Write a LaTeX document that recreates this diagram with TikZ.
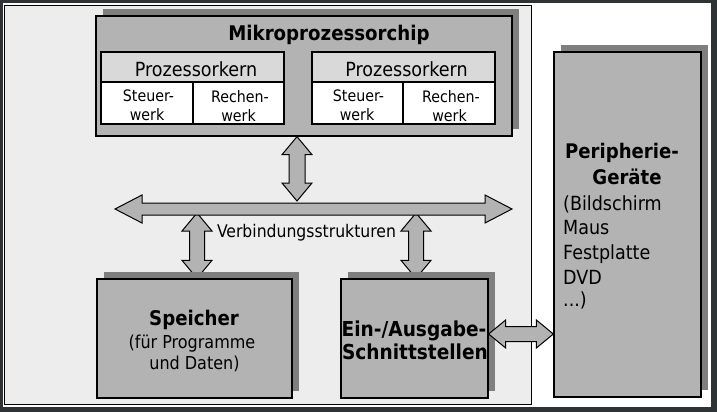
\documentclass[tikz,border=0pt]{standalone}
\usepackage{fontspec}
\setmainfont{DejaVu Sans Condensed}
\usetikzlibrary{calc,shadows}
\definecolor{framedark}{HTML}{2E3436}
\definecolor{panelgray}{HTML}{EDEDED}
\definecolor{boxgray}{HTML}{B3B3B3}
\definecolor{shadowgray}{HTML}{7F7F7F}
\definecolor{headgray}{HTML}{D9D9D9}
\pgfdeclarelayer{bg}
\pgfdeclarelayer{mid}
\pgfsetlayers{bg,mid,main}
% double arrow: #1 start, #2 end, #3 head length, #4 head half width, #5 shaft half width
\newcommand\biarrow[5]{%
 \filldraw[biarrowstyle] (#1)
 -- ($($(#1)!#3!(#2)$)!#4!90:(#2)$)
 -- ($($(#1)!#3!(#2)$)!#5!90:(#2)$)
 -- ($($(#2)!#3!(#1)$)!#5!-90:(#1)$)
 -- ($($(#2)!#3!(#1)$)!#4!-90:(#1)$)
 -- (#2)
 -- ($($(#2)!#3!(#1)$)!#4!90:(#1)$)
 -- ($($(#2)!#3!(#1)$)!#5!90:(#1)$)
 -- ($($(#1)!#3!(#2)$)!#5!-90:(#2)$)
 -- ($($(#1)!#3!(#2)$)!#4!-90:(#2)$)
 -- cycle;}
\begin{document}
\begin{tikzpicture}[x=1pt,y=-1pt,
  box/.style={draw=black, line width=1.3pt, fill=boxgray,
    drop shadow={shadow xshift=7pt, shadow yshift=7pt, fill=shadowgray, opacity=1}},
  headbox/.style={draw=black, line width=1.2pt, fill=headgray, inner sep=0pt},
  cellbox/.style={draw=black, line width=1.2pt, fill=white, inner sep=0pt},
  txt/.style={anchor=base, inner sep=0pt},
  txtw/.style={anchor=base west, inner sep=0pt},
  biarrowstyle/.style={fill=boxgray, draw=black, line width=1pt, line join=miter},
  fbig/.style={font=\fontsize{20.2pt}{24pt}\selectfont\bfseries},
  fmid/.style={font=\fontsize{19.5pt}{24pt}\selectfont},
  fcell/.style={font=\fontsize{15.8pt}{19pt}\selectfont},
  fnorm/.style={font=\fontsize{17.8pt}{22pt}\selectfont}]
\useasboundingbox (0,0) rectangle (717,412);
\begin{pgfonlayer}{bg}
\fill[framedark] (0,0) rectangle (717,412);
\fill[white] (3,3) rectangle (711,407);
\filldraw[fill=panelgray, draw=black, line width=0.8pt] (4.5,5) rectangle (531,404);
\end{pgfonlayer}

% Mikroprozessorchip
\node[box, minimum width=416pt, minimum height=120pt, inner sep=0pt] (chip) at (304,76) {};
\node[txt, fbig] (chiptitle) at (329,40.7) {Mikroprozessorchip};
% Prozessorkern 1
\node[headbox, minimum width=183pt, minimum height=30pt] (k1h) at (192.5,67) {};
\node[cellbox, minimum width=92pt, minimum height=42pt] (k1s) at (147,103) {};
\node[cellbox, minimum width=91pt, minimum height=42pt] (k1r) at (238.5,103) {};
\node[txt, fmid] (k1t) at (196,76) {Prozessorkern};
\node[txt, fcell] (k1s1) at (148.5,101.7) {Steuer-};
\node[txt, fcell] (k1s2) at (147,120) {werk};
\node[txt, fcell] (k1r1) at (240,102.5) {Rechen-};
\node[txt, fcell] (k1r2) at (238.5,121) {werk};
% Prozessorkern 2
\node[headbox, minimum width=183pt, minimum height=30pt] (k2h) at (403.5,67) {};
\node[cellbox, minimum width=91pt, minimum height=42pt] (k2s) at (357.5,103) {};
\node[cellbox, minimum width=92pt, minimum height=42pt] (k2r) at (449,103) {};
\node[txt, fmid] (k2t) at (406.5,76) {Prozessorkern};
\node[txt, fcell] (k2s1) at (358.5,101.7) {Steuer-};
\node[txt, fcell] (k2s2) at (357,120) {werk};
\node[txt, fcell] (k2r1) at (451,102.5) {Rechen-};
\node[txt, fcell] (k2r2) at (449.5,121) {werk};

% Speicher
\node[box, minimum width=195pt, minimum height=119pt, inner sep=0pt] (speicher) at (194.5,338.5) {};
\node[txt, fbig] (sp1) at (194,325) {Speicher};
\node[txt, fnorm] (sp2) at (192,348.3) {(für Programme};
\node[txt, fnorm] (sp3) at (194.5,369.3) {und Daten)};

% Ein-/Ausgabe
\node[box, minimum width=147pt, minimum height=119pt, inner sep=0pt] (io) at (414.5,338.5) {};
\node[txt, font=\fontsize{20.6pt}{24pt}\selectfont\bfseries] (io1) at (414,336.7) {Ein-/Ausgabe-};
\node[txt, font=\fontsize{20.6pt}{24pt}\selectfont\bfseries] (io2) at (415,359.3) {Schnittstellen};

% Peripherie
\node[box, minimum width=147pt, minimum height=345pt, inner sep=0pt] (peri) at (627.5,224.5) {};
\node[txt, font=\fontsize{20.1pt}{24pt}\selectfont\bfseries] (pe1) at (622,158.3) {Peripherie-};
\node[txt, font=\fontsize{20.1pt}{24pt}\selectfont\bfseries] (pe2) at (627,184.3) {Geräte};
\node[txtw, fmid] (pe3) at (563,210.5) {(Bildschirm};
\node[txtw, fmid] (pe4) at (563,234.5) {Maus};
\node[txtw, fmid] (pe5) at (563,259.5) {Festplatte};
\node[txtw, fmid] (pe6) at (563,284) {DVD};
\node[txtw, fmid] (pe7) at (563,306) {...)};

% Verbindungsstrukturen (bus)
\coordinate (busL) at (115,209);
\coordinate (busR) at (512,209);
\node[txt, font=\fontsize{17.4pt}{21pt}\selectfont] (buslabel) at (306.5,237.7) {Verbindungsstrukturen};

\coordinate (a1s) at ([xshift=-7pt]chip.south);
\coordinate (a1e) at ($(a1s |- busL)+(0,-8)$);
\coordinate (a3e) at ([xshift=2.5pt]speicher.north);
\coordinate (a3s) at ($(a3e |- busL)+(0,4)$);
\coordinate (a4e) at ([xshift=1.5pt]io.north);
\coordinate (a4s) at ($(a4e |- busL)+(0,4)$);
\coordinate (a5s) at ([yshift=4.5pt]io.east);
\coordinate (a5e) at (a5s -| peri.west);

\biarrow{busL}{busR}{27pt}{14pt}{6pt}
\biarrow{a1s}{a1e}{18pt}{15pt}{8pt}
\begin{pgfonlayer}{mid}
\biarrow{a3s}{a3e}{18pt}{15pt}{7.5pt}
\biarrow{a4s}{a4e}{18pt}{15pt}{7.5pt}
\end{pgfonlayer}
\biarrow{a5s}{a5e}{17pt}{14pt}{7.5pt}
\end{tikzpicture}
\end{document}
